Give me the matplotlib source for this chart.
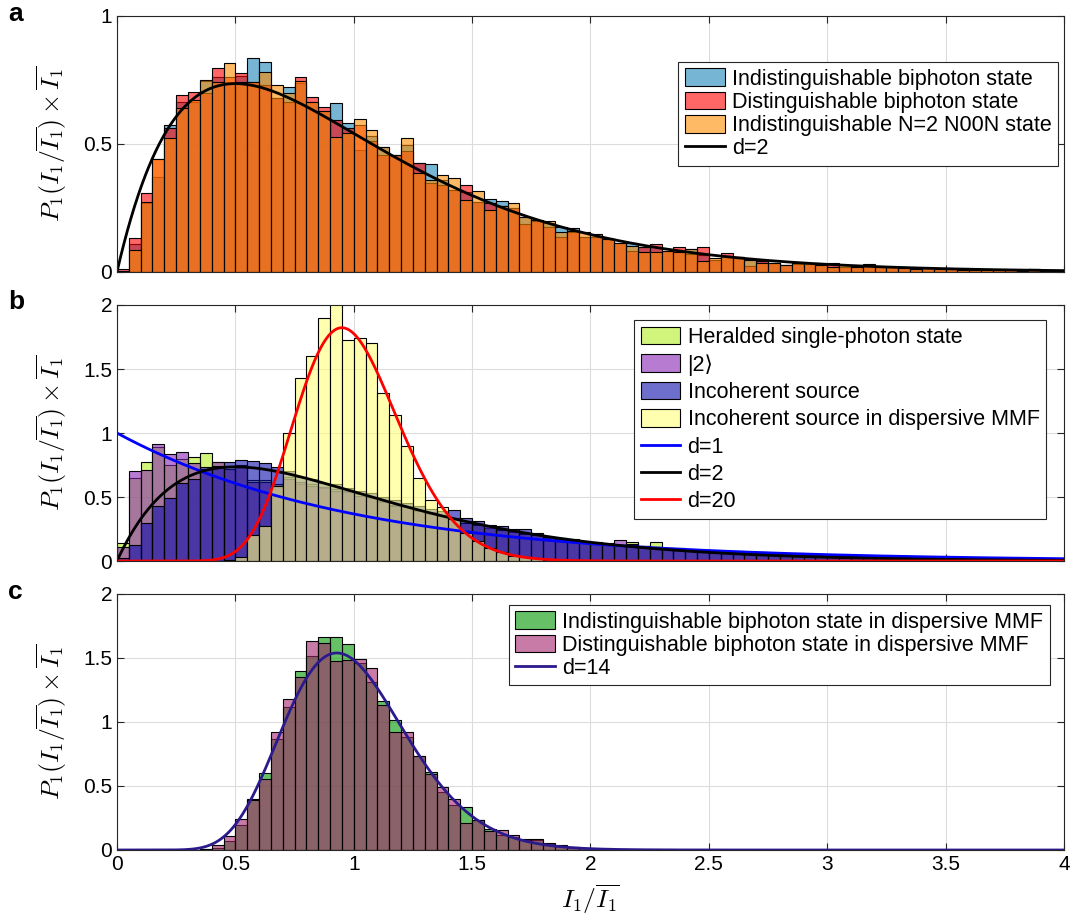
import math
import numpy as np
import matplotlib.pyplot as plt

plt.rcParams['font.family'] = ['Liberation Sans', 'DejaVu Sans']
plt.rcParams['mathtext.fontset'] = 'cm'

# histogram bins: 80 bins of width 0.05 between 0 and 4
bin_width = 0.05
bin_left = np.arange(80) * bin_width

# ---- panel a ----
a_indist = [0.005, 0.109, 0.27, 0.372, 0.574, 0.665, 0.665, 0.745, 0.76, 0.741,
            0.766, 0.835, 0.819, 0.68, 0.721, 0.74, 0.665, 0.63, 0.659, 0.583,
            0.477, 0.53, 0.49, 0.452, 0.496, 0.424, 0.42, 0.359, 0.32, 0.314,
            0.275, 0.287, 0.277, 0.25, 0.213, 0.2, 0.19, 0.177, 0.172, 0.138,
            0.138, 0.13, 0.115, 0.112, 0.099, 0.099, 0.083, 0.08, 0.088, 0.066,
            0.045, 0.062, 0.06, 0.045, 0.041, 0.035, 0.029, 0.036, 0.03, 0.027,
            0.02, 0.02, 0.025, 0.022, 0.021, 0.021, 0.015, 0.013, 0.015, 0.013,
            0.01, 0.008, 0.008, 0.007, 0.008, 0.007, 0.004, 0.013, 0.004, 0.005]
a_dist = [0.01, 0.132, 0.31, 0.441, 0.561, 0.691, 0.702, 0.698, 0.795, 0.76,
          0.776, 0.741, 0.73, 0.68, 0.665, 0.76, 0.685, 0.646, 0.594, 0.561,
          0.574, 0.51, 0.457, 0.455, 0.472, 0.424, 0.347, 0.34, 0.32, 0.338,
          0.275, 0.268, 0.256, 0.25, 0.187, 0.198, 0.175, 0.136, 0.155, 0.138,
          0.138, 0.13, 0.115, 0.083, 0.099, 0.109, 0.083, 0.099, 0.069, 0.096,
          0.045, 0.073, 0.06, 0.024, 0.041, 0.035, 0.029, 0.03, 0.03, 0.027,
          0.034, 0.02, 0.018, 0.032, 0.021, 0.021, 0.015, 0.013, 0.015, 0.013,
          0.01, 0.008, 0.008, 0.007, 0.008, 0.007, 0.004, 0.013, 0.004, 0.005]
a_noon = [0.005, 0.086, 0.275, 0.441, 0.522, 0.639, 0.672, 0.748, 0.741, 0.815,
          0.741, 0.741, 0.78, 0.73, 0.698, 0.747, 0.665, 0.63, 0.529, 0.542,
          0.598, 0.553, 0.49, 0.457, 0.522, 0.385, 0.36, 0.38, 0.366, 0.281,
          0.316, 0.242, 0.256, 0.268, 0.213, 0.203, 0.2, 0.158, 0.16, 0.158,
          0.148, 0.13, 0.115, 0.101, 0.08, 0.08, 0.083, 0.08, 0.088, 0.041,
          0.053, 0.062, 0.06, 0.045, 0.035, 0.035, 0.029, 0.036, 0.036, 0.027,
          0.02, 0.027, 0.018, 0.022, 0.021, 0.021, 0.015, 0.013, 0.015, 0.013,
          0.01, 0.008, 0.008, 0.007, 0.008, 0.007, 0.004, 0.013, 0.004, 0.005]

# ---- panel b ----
b_herald = [0.14, 0.646, 0.776, 0.894, 0.75, 0.794, 0.81, 0.841, 0.77, 0.72,
            0.75, 0.63, 0.633, 0.6, 0.66, 0.6, 0.6, 0.57, 0.56, 0.54,
            0.52, 0.49, 0.46, 0.44, 0.42, 0.4, 0.37, 0.36, 0.33, 0.31,
            0.29, 0.26, 0.25, 0.23, 0.22, 0.2, 0.18, 0.17, 0.16, 0.15,
            0.14, 0.13, 0.125, 0.15, 0.12, 0.146, 0.1, 0.095, 0.09, 0.085,
            0.08, 0.075, 0.07, 0.068, 0.062, 0.06, 0.055, 0.05, 0.048, 0.045,
            0.042, 0.04, 0.037, 0.035, 0.033, 0.03, 0.028, 0.027, 0.025, 0.024,
            0.022, 0.021, 0.02, 0.019, 0.018, 0.017, 0.016, 0.015, 0.014, 0.013]
b_two = [0.11, 0.706, 0.711, 0.911, 0.833, 0.849, 0.768, 0.72, 0.77, 0.72,
         0.74, 0.62, 0.62, 0.59, 0.64, 0.62, 0.59, 0.58, 0.55, 0.55,
         0.51, 0.5, 0.47, 0.43, 0.43, 0.39, 0.38, 0.35, 0.34, 0.3,
         0.28, 0.27, 0.24, 0.235, 0.21, 0.2, 0.19, 0.165, 0.16, 0.145,
         0.14, 0.13, 0.164, 0.13, 0.12, 0.11, 0.105, 0.1, 0.09, 0.088,
         0.08, 0.078, 0.072, 0.066, 0.063, 0.058, 0.056, 0.05, 0.049, 0.044,
         0.043, 0.039, 0.038, 0.034, 0.033, 0.03, 0.029, 0.026, 0.025, 0.023,
         0.022, 0.021, 0.02, 0.019, 0.018, 0.017, 0.016, 0.015, 0.014, 0.013]
b_incoh = [0.02, 0.125, 0.3, 0.43, 0.49, 0.607, 0.638, 0.737, 0.745, 0.776,
           0.789, 0.784, 0.763, 0.737, 0.7, 0.66, 0.64, 0.61, 0.6, 0.57,
           0.55, 0.53, 0.5, 0.48, 0.45, 0.43, 0.41, 0.39, 0.4, 0.34,
           0.31, 0.28, 0.27, 0.25, 0.25, 0.22, 0.19, 0.18, 0.17, 0.16,
           0.15, 0.14, 0.125, 0.125, 0.12, 0.11, 0.105, 0.1, 0.095, 0.09,
           0.085, 0.08, 0.08, 0.072, 0.07, 0.065, 0.062, 0.06, 0.055, 0.05,
           0.048, 0.045, 0.043, 0.04, 0.038, 0.036, 0.034, 0.032, 0.03, 0.029,
           0.027, 0.026, 0.024, 0.023, 0.022, 0.02, 0.019, 0.018, 0.017, 0.016]
b_incoh_mmf = [0, 0, 0, 0, 0, 0, 0, 0, 0, 0.005,
               0.03, 0.2, 0.27, 0.59, 1.0, 1.43, 1.6, 1.9, 2.05, 1.73,
               1.74, 1.7, 1.31, 1.14, 0.9, 0.65, 0.48, 0.42, 0.33, 0.22,
               0.16, 0.1, 0.07, 0.04, 0.03, 0.02, 0.012, 0.008, 0.005, 0.003,
               0.002] + [0] * 39

# ---- panel c ----
c_indist = [0, 0, 0, 0, 0, 0, 0.002, 0.008, 0.013, 0.073,
            0.195, 0.396, 0.6, 0.865, 1.115, 1.4, 1.516, 1.66, 1.667, 1.609,
            1.458, 1.31, 1.164, 1.016, 0.885, 0.737, 0.607, 0.456, 0.352, 0.333,
            0.234, 0.161, 0.117, 0.1, 0.078, 0.075, 0.05, 0.035, 0.024, 0.014,
            0.008, 0.005, 0.003, 0.002, 0.001] + [0] * 35
c_dist = [0, 0, 0, 0, 0, 0, 0.002, 0.01, 0.039, 0.109,
          0.24, 0.39, 0.555, 0.924, 1.18, 1.354, 1.635, 1.615, 1.477, 1.484,
          1.49, 1.419, 1.133, 0.919, 0.919, 0.737, 0.59, 0.49, 0.398, 0.208,
          0.234, 0.146, 0.156, 0.117, 0.083, 0.083, 0.052, 0.04, 0.026, 0.015,
          0.01, 0.006, 0.004, 0.002, 0.001] + [0] * 35

# theory curves: number of modes d
a_modes = [2]
b_modes = [1, 2, 20]
c_modes = [14]


def gamma_pdf(x, d):
    logp = d * math.log(d) - math.lgamma(d) - d * x
    with np.errstate(divide='ignore'):
        logp = logp + (d - 1) * np.log(x)
    return np.exp(logp)


x = np.linspace(0, 4, 801)

fig = plt.figure(figsize=(10.74, 9.22), dpi=100)
ax_a = fig.add_axes([0.1089, 0.7050, 0.8818, 0.2777])
ax_b = fig.add_axes([0.1089, 0.3915, 0.8818, 0.2777])
ax_c = fig.add_axes([0.1089, 0.0781, 0.8818, 0.2777])


def hist(ax, values, color, label):
    return ax.bar(bin_left, values, width=bin_width, align='edge',
                  color=color + (0.6,), edgecolor='black', linewidth=0.8,
                  label=label)


handles_a = [
    hist(ax_a, a_indist, (0.11, 0.52, 0.72), 'Indistinguishable biphoton state'),
    hist(ax_a, a_dist, (1.0, 0.0, 0.0), 'Distinguishable biphoton state'),
    hist(ax_a, a_noon, (1.0, 0.55, 0.0), 'Indistinguishable N=2 N00N state'),
]
handles_a += ax_a.plot(x, gamma_pdf(x, a_modes[0]), color='black', lw=2,
                       label=f'd={a_modes[0]}')

handles_b = [
    hist(ax_b, b_herald, (0.70, 0.93, 0.13), 'Heralded single-photon state'),
    hist(ax_b, b_two, (0.54, 0.14, 0.71), '|2\u27e9'),
    hist(ax_b, b_incoh, (0.05, 0.05, 0.67), 'Incoherent source'),
    hist(ax_b, b_incoh_mmf, (1.0, 1.0, 0.48), 'Incoherent source in dispersive MMF'),
]
for d, col in zip(b_modes, ['#0000ff', 'black', '#ff0000']):
    handles_b += ax_b.plot(x, gamma_pdf(x, d), color=col, lw=2, label=f'd={d}')

handles_c = [
    hist(ax_c, c_indist, (0.0, 0.6, 0.0), 'Indistinguishable biphoton state in dispersive MMF'),
    hist(ax_c, c_dist, (0.64, 0.14, 0.42), 'Distinguishable biphoton state in dispersive MMF'),
]
handles_c += ax_c.plot(x, gamma_pdf(x, c_modes[0]), color='#2b1a8c', lw=2,
                       label=f'd={c_modes[0]}')

ylabel = r'$P_1(I_1/\overline{I_1})\times\overline{I_1}$'
for ax, ymax, yt in [(ax_a, 1, [0, 0.5, 1]),
                     (ax_b, 2, [0, 0.5, 1, 1.5, 2]),
                     (ax_c, 2, [0, 0.5, 1, 1.5, 2])]:
    ax.set_xlim(0, 4)
    ax.set_ylim(0, ymax)
    ax.set_xticks(np.arange(0, 4.01, 0.5))
    ax.set_yticks(yt)
    ax.set_yticklabels([f'{v:g}' for v in yt])
    ax.grid(True, color='#dcdcdc', lw=0.8)
    ax.set_axisbelow(True)
    ax.tick_params(direction='in', top=True, right=True, labelsize=15,
                   length=5, color='#262626')
    for s in ax.spines.values():
        s.set_color('#262626')
        s.set_linewidth(0.8)
    ax.set_ylabel(ylabel, fontsize=18.5, labelpad=10)

ax_a.tick_params(labelbottom=False)
ax_b.tick_params(labelbottom=False)
ax_c.set_xticklabels(['0', '0.5', '1', '1.5', '2', '2.5', '3', '3.5', '4'])
ax_c.set_xlabel(r'$I_1/\overline{I_1}$', fontsize=18.5, labelpad=6)

leg_kw = dict(fontsize=15.5, loc='upper right', fancybox=False, framealpha=1,
              edgecolor='#262626', handlelength=1.85, handleheight=0.9,
              handletextpad=0.33, borderpad=0.3, borderaxespad=0)
for ax, hs, anchor, ls in [(ax_a, handles_a, (0.9937, 0.82), 0.08),
                           (ax_b, handles_b, (0.981, 0.941), 0.28),
                           (ax_c, handles_c, (0.985, 0.957), 0.08)]:
    lg = ax.legend(handles=hs, bbox_to_anchor=anchor, labelspacing=ls, **leg_kw)
    lg.get_frame().set_linewidth(0.8)

for lbl, ypix in [('a', 14), ('b', 302), ('c', 592)]:
    fig.text(8 / 1074, 1 - ypix / 922, lbl, fontsize=19, fontweight='bold',
             va='center', ha='left')

fig.savefig('out.png', dpi=100)
